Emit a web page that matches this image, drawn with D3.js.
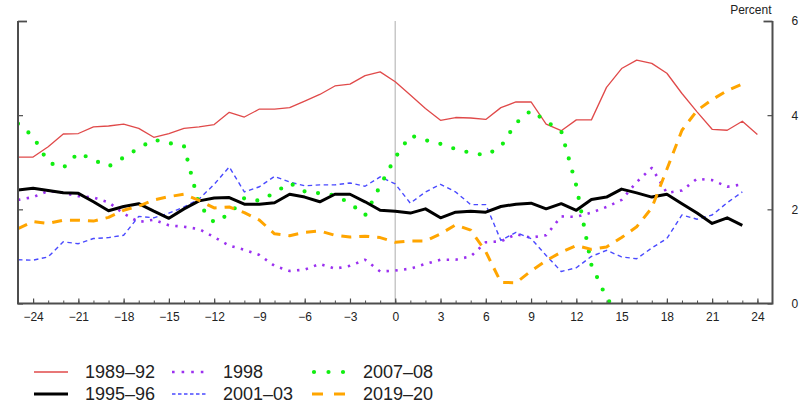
<!DOCTYPE html>
<html>
<head>
<meta charset="utf-8">
<script src="https://cdn.jsdelivr.net/npm/d3@7"></script>
<style>
  html, body { margin: 0; padding: 0; background: #fff; }
  svg { display: block; font-family: "Liberation Sans", Arial, Helvetica, sans-serif; }
</style>
</head>
<body>
<svg id="chart" width="805" height="405"></svg>
<script>
// ---------- data (months relative to event; percent) ----------
const months = [-25,-24,-23,-22,-21,-20,-19,-18,-17,-16,-15,-14,-13,-12,-11,-10,-9,-8,-7,-6,-5,-4,-3,-2,-1,
                 0,1,2,3,4,5,6,7,8,9,10,11,12,13,14,15,16,17,18,19,20,21,22,23,24];

const s1989 = [3.11,3.11,3.33,3.60,3.61,3.75,3.77,3.81,3.72,3.53,3.61,3.72,3.75,3.80,4.06,3.96,4.13,4.13,4.16,4.30,4.44,4.62,4.66,4.84,4.92,
               4.71,4.43,4.14,3.89,3.95,3.94,3.91,4.16,4.28,4.28,3.81,3.67,3.90,3.90,4.59,4.99,5.17,5.10,4.89,4.46,4.07,3.70,3.68,3.87,3.59];

const s1995 = [2.41,2.45,2.40,2.35,2.34,2.16,1.97,2.06,2.12,1.96,1.81,2.01,2.18,2.24,2.25,2.11,2.11,2.14,2.32,2.26,2.16,2.32,2.32,2.16,1.98,
               1.96,1.92,2.01,1.82,1.94,1.96,1.94,2.06,2.11,2.13,2.01,2.12,1.98,2.21,2.26,2.43,2.35,2.26,2.32,2.12,1.92,1.70,1.82,1.66,null];

const s1998 = [2.20,2.26,2.39,2.35,2.28,2.25,2.15,1.91,1.73,1.78,1.66,1.63,1.58,1.41,1.23,1.14,1.03,0.80,0.69,0.72,0.84,0.74,0.80,0.93,0.68,
               0.70,0.74,0.84,0.93,0.93,1.00,1.30,1.32,1.47,1.40,1.45,1.85,1.84,1.93,2.05,2.20,2.58,2.88,2.35,2.40,2.65,2.62,2.48,2.53,null];

const s2001 = [0.93,0.92,0.99,1.31,1.27,1.38,1.40,1.45,1.85,1.82,1.92,2.05,2.22,2.53,2.90,2.37,2.48,2.70,2.58,2.50,2.52,2.52,2.56,2.49,2.69,
               2.54,2.13,2.37,2.53,2.37,2.10,2.10,1.34,1.51,1.38,1.02,0.68,0.76,1.00,1.13,0.99,0.95,1.18,1.38,1.88,1.79,1.88,2.14,2.37,null];

const s2007 = [3.82,3.55,3.00,2.88,3.20,3.05,2.91,3.10,3.30,3.48,3.41,3.34,2.10,1.72,1.90,2.24,2.18,2.35,2.56,2.38,2.34,2.30,2.13,1.87,2.50,
               3.10,3.57,3.47,3.39,3.28,3.20,3.15,3.33,3.83,4.10,3.87,3.66,2.50,0.82,0.12,-0.30,null,null,null,null,null,null,null,null,null];

const s2019 = [1.59,1.74,1.70,1.77,1.77,1.75,1.83,1.98,2.07,2.20,2.27,2.32,2.19,2.03,2.05,1.93,1.77,1.48,1.44,1.51,1.54,1.45,1.41,1.43,1.40,
               1.30,1.33,1.33,1.48,1.67,1.56,1.10,0.45,0.44,0.69,0.91,1.09,1.23,1.15,1.20,1.40,1.63,2.03,2.85,3.68,4.10,4.33,4.52,4.66,null];

const seriesNames = ["1989\u201392","1995\u201396","1998","2001\u201303","2007\u201308","2019\u201320"];
const xTicks = [-24,-21,-18,-15,-12,-9,-6,-3,0,3,6,9,12,15,18,21,24];
const yTicks = [0,2,4,6];
const unitLabel = "Percent";

// ---------- styles ----------
const styles = {
  "1989\u201392": {color:"#e04a4a", width:1.3, dash:null, cap:"butt", legDash:null},
  "1995\u201396": {color:"#000000", width:3, dash:null, cap:"butt", legDash:null},
  "1998":         {color:"#9b30f0", width:2.6, dash:"2.4,6.4", cap:"butt", legDash:"2.6,7"},
  "2001\u201303": {color:"#4a4aff", width:1.4, dash:"4.5,3.5", cap:"butt", legDash:"3.5,2.5"},
  "2007\u201308": {color:"#11ee11", width:4.2, dash:"0,13.6", cap:"round", legDash:"0,14.5"},
  "2019\u201320": {color:"#ffa500", width:3, dash:"10,8", cap:"butt", legDash:"11,11"}
};
const seriesData = [s1989, s1995, s1998, s2001, s2007, s2019];

// ---------- layout ----------
const svg = d3.select("#chart");
const L = 18, R = 772.5, T = 21, B = 303.5;
const x = d3.scaleLinear().domain([-25, 25]).range([L, R]);
const y = d3.scaleLinear().domain([0, 6]).range([B, T]);
const axisColor = "#4d4d4d";

svg.append("defs").append("clipPath").attr("id","plotclip")
  .append("rect").attr("x", L).attr("y", T - 5).attr("width", R - L).attr("height", B - T + 5);

// zero line
svg.append("line")
  .attr("x1", x(0)).attr("x2", x(0)).attr("y1", y(6)).attr("y2", y(0))
  .attr("stroke", "#c8c8c8").attr("stroke-width", 1.5);

// series lines
const line = d3.line()
  .defined(d => d.v !== null)
  .x(d => x(d.m)).y(d => y(d.v));

const plot = svg.append("g").attr("clip-path", "url(#plotclip)");
const drawOrder = [0, 2, 3, 4, 1, 5];
drawOrder.forEach(i => {
  const name = seriesNames[i];
  const st = styles[name];
  const data = months.map((m, k) => ({m, v: seriesData[i][k]}));
  plot.append("path")
    .datum(data)
    .attr("d", line)
    .attr("fill", "none")
    .attr("stroke", st.color)
    .attr("stroke-width", st.width)
    .attr("stroke-linecap", st.cap)
    .attr("stroke-linejoin", "round")
    .attr("stroke-dasharray", st.dash);
});

// bottom axis: minor ticks every month, major every 3 with labels
const minorTicks = months.filter(m => m > -25 && m < 25);
svg.append("g").attr("transform", `translate(0,${B})`)
  .call(d3.axisBottom(x).tickValues(minorTicks).tickSizeInner(-3).tickSizeOuter(0).tickFormat(""))
  .call(g => g.select(".domain").remove())
  .call(g => g.selectAll(".tick line").attr("stroke", axisColor).attr("stroke-width", 1));

const gx = svg.append("g").attr("transform", `translate(0,${B})`)
  .call(d3.axisBottom(x).tickValues(xTicks).tickSizeInner(-5).tickSizeOuter(0).tickPadding(9)
        .tickFormat(d => d < 0 ? "\u2212" + Math.abs(d) : String(d)));
gx.select(".domain").remove();
gx.selectAll(".tick line").attr("stroke", axisColor).attr("stroke-width", 1.2);
gx.selectAll(".tick text").attr("font-size", 12).attr("fill", "#222").attr("font-family", null);

// left axis (no labels)
const gl = svg.append("g").attr("transform", `translate(${L},0)`)
  .call(d3.axisLeft(y).tickValues(yTicks).tickSizeInner(-5).tickSizeOuter(0).tickFormat(""));
gl.select(".domain").remove();
gl.selectAll(".tick line").attr("stroke", axisColor).attr("stroke-width", 1.2)
  .filter(d => d === 6).attr("x2", 9).attr("stroke-width", 1.8);

// right axis with labels
const gr = svg.append("g").attr("transform", `translate(${R},0)`)
  .call(d3.axisRight(y).tickValues(yTicks).tickSizeInner(-5).tickSizeOuter(0).tickPadding(19)
        .tickFormat(d3.format("d")));
gr.select(".domain").remove();
gr.selectAll(".tick line").attr("stroke", axisColor).attr("stroke-width", 1.2)
  .filter(d => d === 6).attr("x2", -9).attr("stroke-width", 1.8);
gr.selectAll(".tick text").attr("font-size", 12).attr("fill", "#222").attr("font-family", null);

// axis frame lines (left, bottom, right)
svg.append("path")
  .attr("d", `M${L},${y(6)}V${B}H${R}V${y(6)}`)
  .attr("fill", "none").attr("stroke", axisColor).attr("stroke-width", 2);

// unit label
svg.append("text").attr("x", R - 1).attr("y", 14).attr("text-anchor", "end")
  .attr("font-size", 12).attr("fill", "#222").text(unitLabel);

// legend
const legCols = [34, 172, 312];
const legRows = [372, 394];
const legend = svg.append("g");
seriesNames.forEach((name, i) => {
  const col = Math.floor(i / 2), row = i % 2;
  const st = styles[name];
  const lx = legCols[col], ly = legRows[row];
  legend.append("line")
    .attr("x1", lx).attr("x2", lx + 34).attr("y1", ly).attr("y2", ly)
    .attr("stroke", st.color).attr("stroke-width", st.width)
    .attr("stroke-linecap", st.cap)
    .attr("stroke-dasharray", st.legDash)
    .attr("stroke-dashoffset", name === "2007\u201308" ? -2 : 0);
  legend.append("text")
    .attr("x", lx + 51).attr("y", ly).attr("dy", "0.36em")
    .attr("font-size", 18).attr("fill", "#222").text(name);
});
</script>
</body>
</html>
